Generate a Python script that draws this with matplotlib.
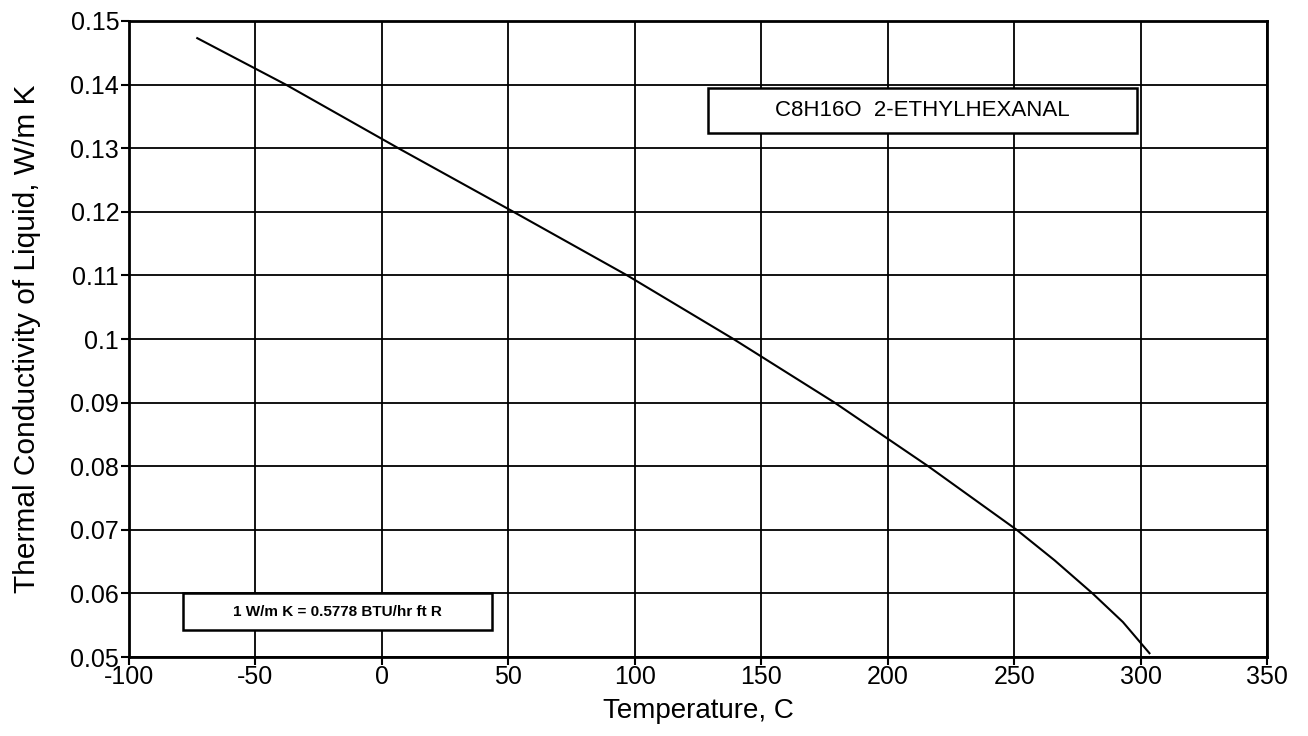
import matplotlib
matplotlib.use("Agg")
import matplotlib.pyplot as plt
from matplotlib.patches import Rectangle
import numpy as np

plt.rcParams['font.family'] = ['Liberation Sans', 'DejaVu Sans']

temp_c = [-73, -38, 6.5, 52, 97, 139, 179, 216, 251, 266, 281, 293, 303.5]
k_liquid = [0.1473, 0.14, 0.13, 0.12, 0.11, 0.10, 0.09, 0.08, 0.07, 0.0652, 0.06, 0.0555, 0.0506]

x_ticks = [-100, -50, 0, 50, 100, 150, 200, 250, 300, 350]
x_tick_labels = ['-100', '-50', '0', '50', '100', '150', '200', '250', '300', '350']
y_ticks = [0.05, 0.06, 0.07, 0.08, 0.09, 0.10, 0.11, 0.12, 0.13, 0.14, 0.15]
y_tick_labels = ['0.05', '0.06', '0.07', '0.08', '0.09', '0.1', '0.11', '0.12', '0.13', '0.14', '0.15']

title_text = 'C8H16O  2-ETHYLHEXANAL'
conv_text = '1 W/m K = 0.5778 BTU/hr ft R'

fig = plt.figure(figsize=(13.08, 7.36), dpi=100)
ax = fig.add_axes([0.0986, 0.1073, 0.8701, 0.8642])

ax.plot(temp_c, k_liquid, color='black', lw=1.5)
ax.set_xlim(-100, 350)
ax.set_ylim(0.05, 0.15)
ax.set_xticks(x_ticks)
ax.set_xticklabels(x_tick_labels)
ax.set_yticks(y_ticks)
ax.set_yticklabels(y_tick_labels)
ax.grid(True, color='black', lw=1.3)
ax.set_axisbelow(True)
for s in ax.spines.values():
    s.set_linewidth(2)
ax.tick_params(axis='both', labelsize=18, direction='out', length=6, width=1.5, pad=1, colors='black')
ax.tick_params(axis='x', pad=0)

ax.set_xlabel('Temperature, C', fontsize=20)
ax.xaxis.set_label_coords(0.5, -0.064)
ax.set_ylabel('Thermal Conductivity of Liquid, W/m K', fontsize=21.5)
ax.yaxis.set_label_coords(-0.077, 0.5)

# name box
ax.add_patch(Rectangle((0.5088, 0.824), 0.377, 0.0707, transform=ax.transAxes,
                       facecolor='white', edgecolor='black', lw=1.8, zorder=5))
ax.text(0.5088 + 0.377 / 2, 0.824 + 0.0707 / 2, title_text, transform=ax.transAxes,
        ha='center', va='center', fontsize=16, zorder=6)

# conversion box
ax.add_patch(Rectangle((0.0475, 0.0425), 0.2715, 0.0581, transform=ax.transAxes,
                       facecolor='white', edgecolor='black', lw=1.8, zorder=5))
ax.text(0.0475 + 0.2715 / 2, 0.0425 + 0.0581 / 2, conv_text, transform=ax.transAxes,
        ha='center', va='center', fontsize=11, fontweight='bold', zorder=6)

fig.savefig('out.png', dpi=100)
